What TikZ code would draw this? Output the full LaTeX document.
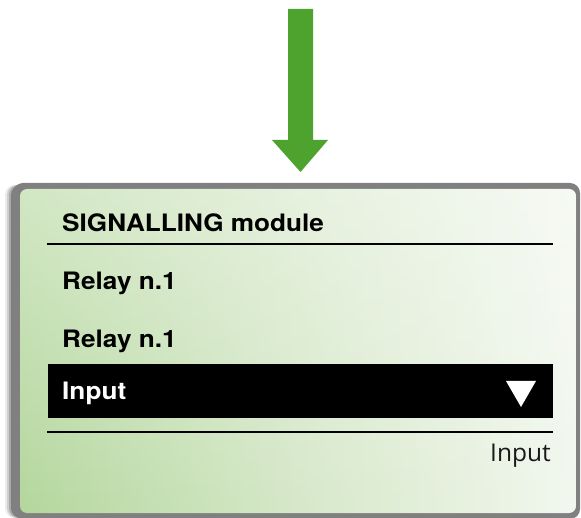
\documentclass[tikz,border=0pt]{standalone}
\usepackage{fontspec}
\usetikzlibrary{fadings}
\newfontfamily\hbold[FakeStretch=1.09]{TeX Gyre Heros Bold}
\newfontfamily\hreg{Open Sans}
\definecolor{arrowgreen}{RGB}{78,162,46}
\definecolor{frame}{RGB}{128,128,128}
\definecolor{panelgreen}{RGB}{180,215,157}
\definecolor{panelmid}{RGB}{214,232,201}
\definecolor{panellight}{RGB}{242,247,238}
\pgfdeclarehorizontalshading{panelshade}{100bp}{color(0bp)=(panelgreen); color(25bp)=(panelgreen); color(50bp)=(panelmid); color(75bp)=(panellight); color(100bp)=(panellight)}
\tikzset{
  boldlabel/.style={anchor=base west, inner sep=0pt, font=\hbold\fontsize{24}{24}\selectfont},
  reglabel/.style={anchor=base east, inner sep=0pt, font=\hreg\fontsize{24.5}{25}\selectfont, text=black!90},
  rule/.style={line width=2pt, black},
  panel/.style={rounded corners=7pt},
}
\begin{document}
\begin{tikzpicture}[x=1pt,y=-1pt]
\useasboundingbox (0,0) rectangle (581,518);
% arrow
\fill[arrowgreen] (288,9) -- (313,9) -- (313,140) -- (328,140) -- (300.5,172) -- (272,140) -- (288,140) -- cycle;
% soft shadow on left
\foreach \d/\o in {8/0.08,6/0.12,4/0.18,2/0.25} {
  \fill[black, opacity=\o, rounded corners=10pt] (13-\d,185) rectangle (40,518);
}
% frame
\fill[frame, rounded corners=10pt] (13,183) rectangle (580,519);
% panel
\shade[panel, shading=panelshade] (20,189) rectangle (576,513);
\fill[panel, white, path fading=south, fill opacity=0.4] (20,189) rectangle (576,513);
% contents
\node[boldlabel] (title) at (62,232) {SIGNALLING module};
\draw[rule] (47,244) -- (553,244);
\node[boldlabel] (relay1) at (62,290) {Relay n.1};
\node[boldlabel] (relay2) at (62,348) {Relay n.1};
\fill[black] (48,364) rectangle (553,418);
\node[boldlabel, text=white] (inputsel) at (62,400) {Input};
\fill[white] (506,381) -- (536,381) -- (521,407) -- cycle;
\draw[rule] (47,432) -- (553,432);
\node[reglabel] (inputval) at (551,461) {Input};
\end{tikzpicture}
\end{document}
